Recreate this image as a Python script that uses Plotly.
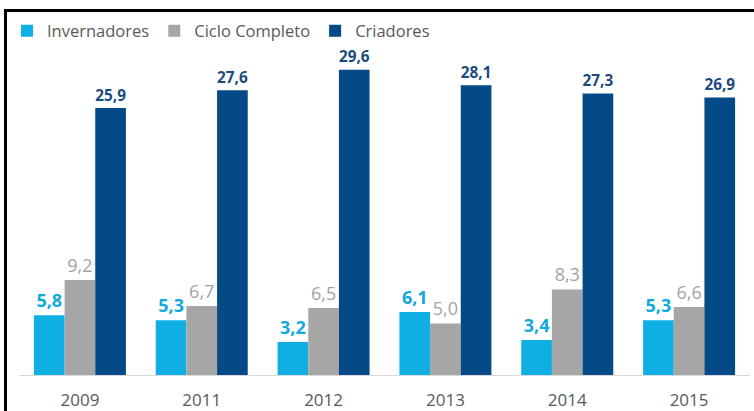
import plotly.graph_objects as go

# Years on the category axis
years = ["2009", "2011", "2012", "2013", "2014", "2015"]

# Values per producer type
invernadores = [5.8, 5.3, 3.2, 6.1, 3.4, 5.3]
ciclo_completo = [9.2, 6.7, 6.5, 5.0, 8.3, 6.6]
criadores = [25.9, 27.6, 29.6, 28.1, 27.3, 26.9]

series = [
    ("Invernadores", invernadores, "#0FAEE3", "#12A9DC", "bold"),
    ("Ciclo Completo", ciclo_completo, "#A6A6A6", "#A3A3A3", "normal"),
    ("Criadores", criadores, "#034A86", "#1B4A7C", "bold"),
]


def fmt(v):
    return f"{v:.1f}".replace(".", ",")


fig = go.Figure()
for name, vals, bar_color, text_color, weight in series:
    fig.add_trace(go.Bar(
        name=name,
        x=years,
        y=vals,
        marker=dict(color=bar_color, line=dict(width=0)),
        text=[fmt(v) for v in vals],
        textposition="outside",
        cliponaxis=False,
        textfont=dict(family="Open Sans", size=18, color=text_color, weight=weight),
        hoverinfo="skip",
    ))

# empty trace that carries the frame axes (left and top border lines)
fig.add_trace(go.Scatter(
    x=[None], y=[None], xaxis="x2", yaxis="y2",
    showlegend=False, hoverinfo="skip", mode="markers",
))

frame_axis = dict(
    range=[0, 1],
    showline=True,
    linecolor="black",
    linewidth=2.5,
    showgrid=False,
    zeroline=False,
    showticklabels=False,
    ticks="",
    fixedrange=True,
    automargin=False,
)

fig.update_layout(
    width=754,
    height=411,
    margin=dict(l=7, r=0, t=12, b=0),
    paper_bgcolor="white",
    plot_bgcolor="rgba(0,0,0,0)",
    barmode="group",
    bargap=0.245,
    bargroupgap=0,
    showlegend=True,
    legend=dict(
        orientation="h",
        x=0.0,
        xanchor="left",
        y=0.9524,
        yanchor="middle",
        font=dict(family="Open Sans", size=16.5, color="#595959"),
        bgcolor="rgba(0,0,0,0)",
        itemwidth=30,
        tracegroupgap=0,
    ),
    xaxis=dict(
        type="category",
        domain=[0.01606, 0.99465],
        range=[-0.5, 5.5],
        showgrid=False,
        showline=True,
        linecolor="#D9D9D9",
        linewidth=1,
        ticks="",
        tickfont=dict(family="Open Sans", size=17, color="#595959"),
        ticklabelstandoff=10,
        automargin=False,
    ),
    yaxis=dict(
        domain=[0.09023, 0.91729],
        range=[0, 32],
        visible=False,
        showgrid=False,
        zeroline=False,
        automargin=False,
    ),
    xaxis2=dict(frame_axis, domain=[0, 1], anchor="y2", side="top"),
    yaxis2=dict(frame_axis, domain=[0, 1], anchor="x2", side="left"),
)

fig.write_html("out.html")
